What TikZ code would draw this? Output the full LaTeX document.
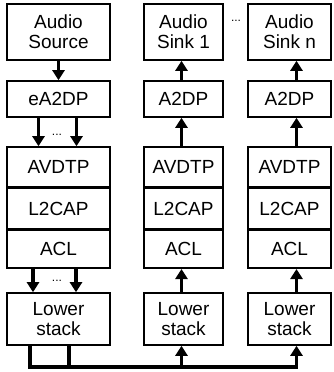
\documentclass[tikz,border=0pt]{standalone}
\usepackage{fontspec}
\setmainfont{Liberation Sans}
\usetikzlibrary{arrows.meta, positioning}

\begin{document}
\begin{tikzpicture}[x=1pt, y=-1pt,
    box/.style={shape=rectangle, draw=black, line width=1.6pt, inner sep=0pt, align=center,
                font=\fontsize{19}{20}\selectfont},
    arr/.style={line width=3.2pt, -{Triangle[width=12pt,length=10pt]}},
    wire/.style={line width=3.2pt},
    dots/.style={inner sep=0pt, font=\fontsize{12}{12}\selectfont}]
    \useasboundingbox (0,0) rectangle (333,372);

    % source side
    \node[box, minimum width=103pt, minimum height=56pt] (src)   at (58.5, 32) {Audio\\Source};
    \node[box, minimum width=103pt, minimum height=36pt] (ea2dp) at (58.5, 99) {eA2DP};
    \node[box, minimum width=103pt, minimum height=40pt] (avdtp0) at (58.5,167) {AVDTP};
    \node[box, minimum width=103pt, minimum height=40pt, below=0pt of avdtp0] (l2cap0) {L2CAP};
    \node[box, minimum width=103pt, minimum height=38pt, below=0pt of l2cap0] (acl0) {ACL};
    \node[box, minimum width=103pt, minimum height=52pt] (low0)  at (58.5,319) {Lower\\stack};

    \draw[arr] (src) -- (ea2dp);
    \draw[arr] ([xshift=-20pt]ea2dp.south) -- ([xshift=-20pt]avdtp0.north);
    \draw[arr] ([xshift=18pt]ea2dp.south) -- ([xshift=18pt]avdtp0.north);
    \node[dots] (d1) at (57,135) {...};
    \draw[arr] ([xshift=-25.5pt]acl0.south) -- ([xshift=-25.5pt]low0.north);
    \draw[arr] ([xshift=17.5pt]acl0.south) -- ([xshift=17.5pt]low0.north);
    \node[dots] (d2) at (57,281) {...};

    % sink side
    \coordinate (bus) at (0,367);
    \foreach \c/\x/\w/\s/\n in {1/183.5/79/-2/1, 2/289.5/83/7/n} {
        \node[box, minimum width=\w pt, minimum height=56pt] (snk\c)   at (\x, 32) {Audio\\Sink \n};
        \node[box, minimum width=\w pt, minimum height=36pt] (a2dp\c)  at (\x, 99) {A2DP};
        \node[box, minimum width=\w pt, minimum height=40pt] (avdtp\c) at (\x,167) {AVDTP};
        \node[box, minimum width=\w pt, minimum height=40pt, below=0pt of avdtp\c] (l2cap\c) {L2CAP};
        \node[box, minimum width=\w pt, minimum height=38pt, below=0pt of l2cap\c] (acl\c) {ACL};
        \node[box, minimum width=\w pt, minimum height=52pt] (low\c)   at (\x,319) {Lower\\stack};

        \draw[arr] ([xshift=\s pt]a2dp\c.north) -- ([xshift=\s pt]snk\c.south);
        \draw[arr] ([xshift=\s pt]avdtp\c.north) -- ([xshift=\s pt]a2dp\c.south);
        \draw[arr] ([xshift=\s pt]low\c.north) -- ([xshift=\s pt]acl\c.south);
        \draw[arr] ([xshift=\s pt]low\c.south |- bus) -- ([xshift=\s pt]low\c.south);
    }
    \node[dots] (d3) at (236,21) {...};

    % shared link
    \draw[wire] ([xshift=-28.5pt]low0.south) |- ([xshift=8.6pt]low2.south |- bus);
    \draw[wire] ([xshift=10.5pt]low0.south) -- ([xshift=10.5pt]low0.south |- bus);
\end{tikzpicture}
\end{document}
